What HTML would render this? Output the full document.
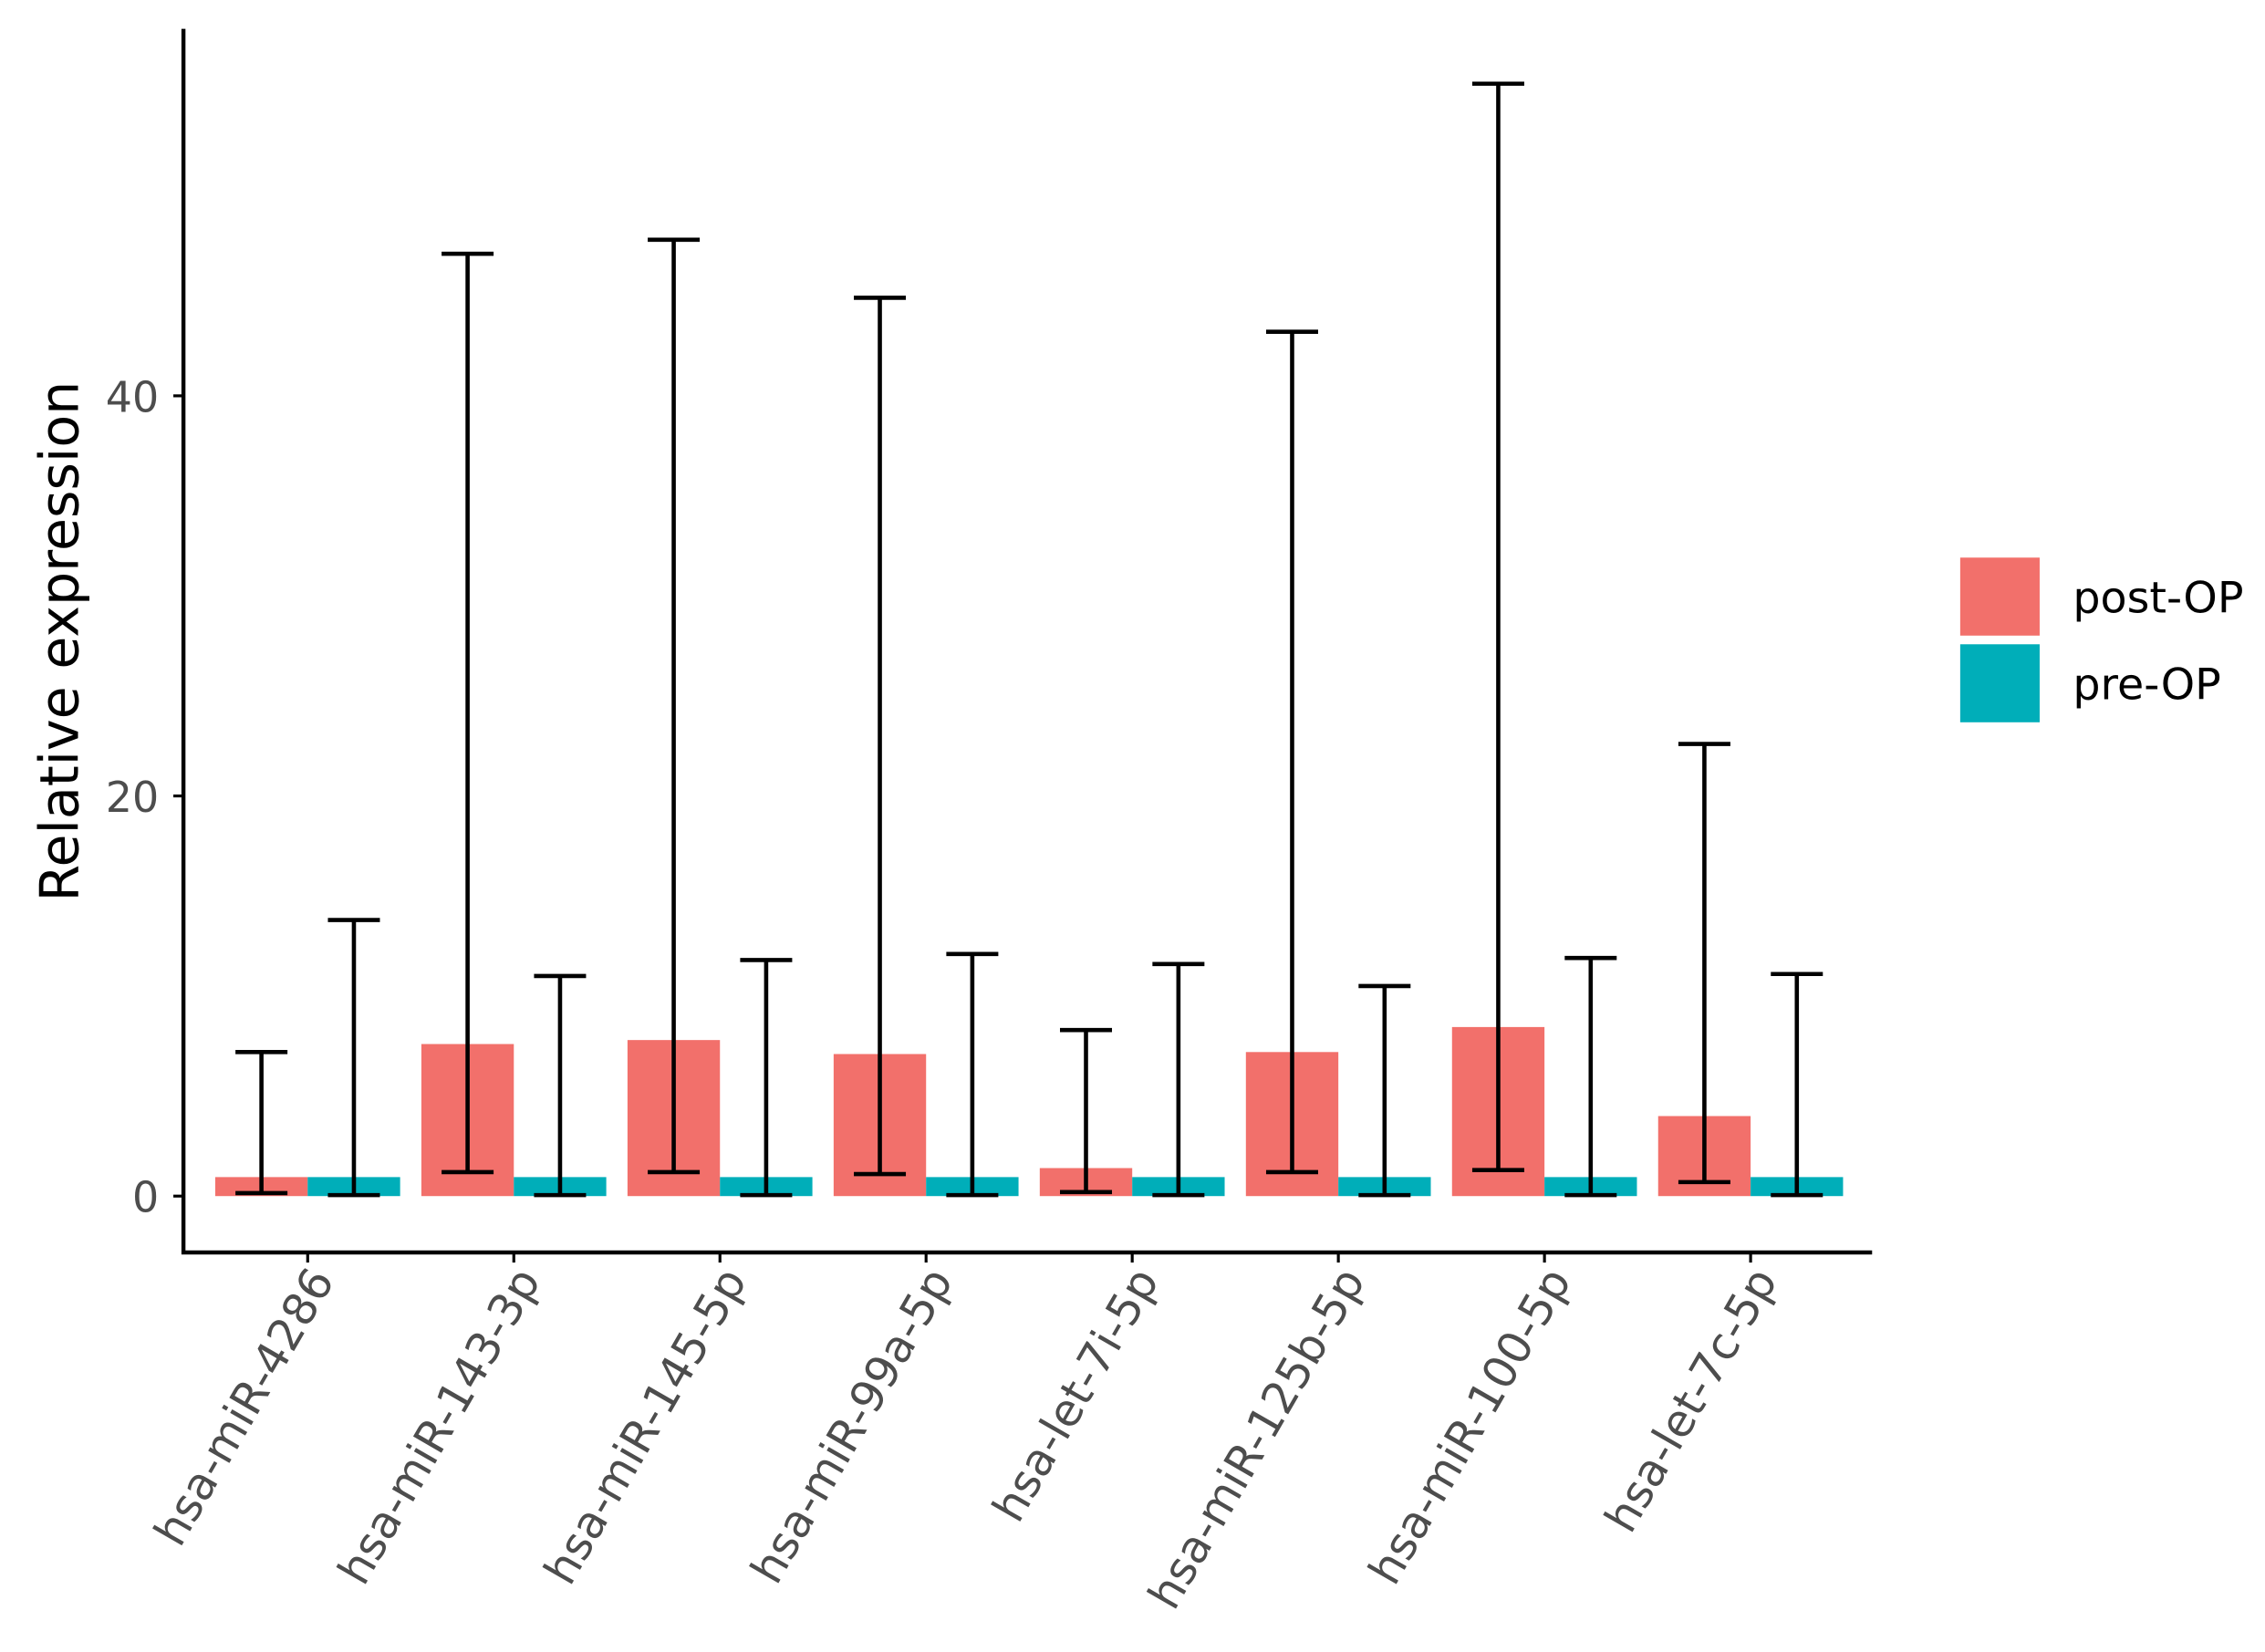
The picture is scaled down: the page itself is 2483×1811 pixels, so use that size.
<!DOCTYPE html>
<html><head><meta charset="utf-8"><style>
html,body{margin:0;padding:0;background:#fff}
svg{display:block}
text{font-family:"DejaVu Sans","Liberation Sans",sans-serif}
</style></head><body>
<svg id="chart" width="2483" height="1811" viewBox="0 0 1568 1143.6" preserveAspectRatio="none" xmlns="http://www.w3.org/2000/svg">
<g id="plot"></g>
</svg>
<script>
const categories=["hsa-miR-4286","hsa-miR-143-3p","hsa-miR-145-5p","hsa-miR-99a-5p","hsa-let-7i-5p","hsa-miR-125b-5p","hsa-miR-100-5p","hsa-let-7c-5p"];
const postValues=[0.95,7.6,7.8,7.1,1.4,7.2,8.45,4.0];
const postLow=[0.15,1.2,1.2,1.1,0.2,1.2,1.3,0.7];
const postHigh=[7.2,47.1,47.8,44.9,8.3,43.2,55.6,22.6];
const preValues=[0.95,0.95,0.95,0.95,0.95,0.95,0.95,0.95];
const preLow=[0.05,0.05,0.05,0.05,0.05,0.05,0.05,0.05];
const preHigh=[13.8,11.0,11.8,12.1,11.6,10.5,11.9,11.1];
const yTicks=[0,20,40];
const legendLabels=["post-OP","pre-OP"];

const NS="http://www.w3.org/2000/svg";
const g=document.getElementById('plot');
function el(t,a){const e=document.createElementNS(NS,t);for(const k in a)e.setAttribute(k,a[k]);g.appendChild(e);return e;}
const y=v=>828-v*13.85;
const xc=i=>213+i*142.7;
const bw=64, cap=18;
const colors=["#F2706B","#00AEB9"];

categories.forEach((c,i)=>{
  [[postValues,postLow,postHigh,-1],[preValues,preLow,preHigh,0]].forEach((s,k)=>{
    const x0=xc(i)+s[3]*bw, v=s[0][i];
    const r=el('rect',{x:x0,y:y(v),width:bw,height:y(0)-y(v),fill:colors[k]});
    
    
  });
});
categories.forEach((c,i)=>{
  [[postLow,postHigh,-0.5],[preLow,preHigh,0.5]].forEach((s,k)=>{
    const cx=xc(i)+s[2]*bw, lo=y(s[0][i]), hi=y(s[1][i]);
    const p=el('path',{d:`M${cx},${lo}V${hi}M${cx-cap},${hi}H${cx+cap}M${cx-cap},${lo}H${cx+cap}`,stroke:"#000","stroke-width":2.9,fill:"none"});
    
    
  });
  const t=el('text',{x:0,y:0,"font-size":31,fill:"#4d4d4d","text-anchor":"end",transform:`translate(${xc(i)+19},${886}) rotate(-60)`});
  t.textContent=c;
  
  
  const tk=el('line',{x1:xc(i),x2:xc(i),y1:867,y2:874,stroke:"#000","stroke-width":2});
  
  
});
yTicks.forEach(v=>{
  const tk=el('line',{x1:120,x2:127,y1:y(v),y2:y(v),stroke:"#000","stroke-width":2});
  
  
  const t=el('text',{x:110,y:y(v)+11,"font-size":29,fill:"#4d4d4d","text-anchor":"end"});
  t.textContent=v;
  
  
});
const ax=el('path',{d:"M127,20V867H1296",stroke:"#000","stroke-width":2.8,fill:"none"});


const yt=el('text',{x:0,y:0,"font-size":37,fill:"#000","text-anchor":"middle",transform:"translate(54,444) rotate(-90)"});
yt.textContent="Relative expression";


legendLabels.forEach((l,k)=>{
  const r=el('rect',{x:1357,y:386+k*60,width:55,height:54,fill:colors[k]});
  
  
  const t=el('text',{x:1435,y:424+k*60,"font-size":30,fill:"#000"});
  t.textContent=l;
  
  
});
</script>
</body></html>
